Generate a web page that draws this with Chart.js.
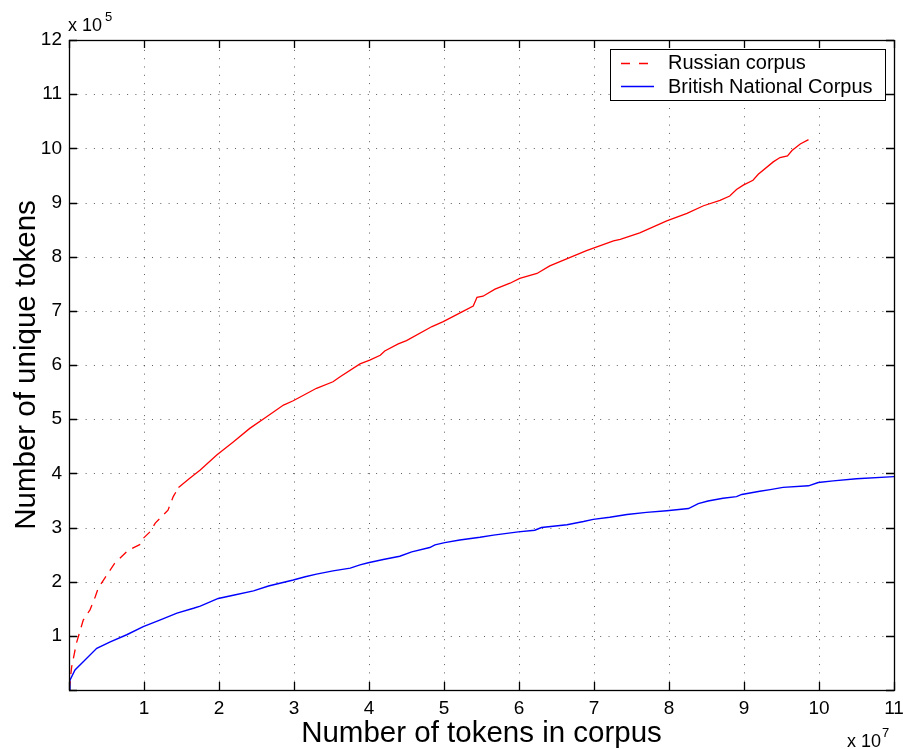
<!DOCTYPE html>
<html>
<head>
<meta charset="utf-8">
<script src="https://cdn.jsdelivr.net/npm/chart.js@4"></script>
<style>
  html, body { margin: 0; padding: 0; background: #fff; }
  canvas { display: block; }
</style>
</head>
<body>
<canvas id="corpus" width="903" height="749"></canvas>
<script>
// tokens in corpus (x 10^7) and unique tokens (x 10^5)
const russianTokens = [0, 0.036, 0.10, 0.19, 0.28, 0.35, 0.39, 0.46, 0.61, 0.79, 0.95, 0.99, 1.08, 1.15, 1.32, 1.39, 1.46,
    1.61, 1.75, 1.97, 2.19, 2.41, 2.64, 2.86, 2.99, 3.30, 3.52, 3.61, 3.88, 4.01, 4.15, 4.21, 4.39, 4.50, 4.84, 4.99,
    5.24, 5.39, 5.44, 5.52, 5.68, 5.88, 6.01, 6.24, 6.41, 6.90, 7.26, 7.35, 7.61, 7.97, 8.24, 8.46, 8.68, 8.81, 8.90,
    8.99, 9.12, 9.19, 9.39, 9.48, 9.58, 9.64, 9.75, 9.86];
const russianUnique = [0, 0.43, 0.87, 1.29, 1.48, 1.72, 1.88, 2.03, 2.34, 2.58, 2.69, 2.80, 2.92, 3.08, 3.32, 3.57, 3.74,
    3.91, 4.06, 4.34, 4.58, 4.83, 5.05, 5.26, 5.34, 5.57, 5.69, 5.78, 6.02, 6.09, 6.18, 6.26, 6.39, 6.45, 6.71, 6.80,
    6.98, 7.09, 7.25, 7.27, 7.40, 7.51, 7.60, 7.69, 7.83, 8.11, 8.29, 8.32, 8.44, 8.66, 8.80, 8.94, 9.04, 9.12, 9.24,
    9.32, 9.41, 9.52, 9.75, 9.83, 9.86, 9.96, 10.08, 10.16];

const bncTokens = [0, 0.013, 0.08, 0.19, 0.37, 0.55, 0.77, 0.99, 1.21, 1.44, 1.66, 1.75, 1.99, 2.19, 2.46, 2.66, 2.99,
    3.15, 3.30, 3.52, 3.75, 3.88, 3.99, 4.19, 4.41, 4.57, 4.81, 4.88, 5.01, 5.21, 5.48, 5.66, 5.99, 6.21, 6.30, 6.64,
    6.86, 6.99, 7.21, 7.44, 7.70, 7.97, 8.26, 8.39, 8.52, 8.72, 8.90, 8.97, 9.21, 9.35, 9.52, 9.86, 9.99, 10.19, 10.5, 11.0];
const bncUnique = [0, 0.18, 0.37, 0.52, 0.77, 0.89, 1.02, 1.17, 1.29, 1.42, 1.51, 1.55, 1.69, 1.75, 1.83, 1.92, 2.03,
    2.09, 2.14, 2.20, 2.25, 2.31, 2.35, 2.41, 2.47, 2.55, 2.63, 2.68, 2.72, 2.77, 2.82, 2.86, 2.92, 2.95, 3.00, 3.05,
    3.11, 3.15, 3.19, 3.24, 3.28, 3.31, 3.35, 3.44, 3.49, 3.54, 3.57, 3.61, 3.67, 3.70, 3.74, 3.77, 3.83, 3.86, 3.90, 3.94];

const xTicks = [0, 1, 2, 3, 4, 5, 6, 7, 8, 9, 10, 11];
const yTicks = [0, 1, 2, 3, 4, 5, 6, 7, 8, 9, 10, 11, 12];
const seriesNames = ["Russian corpus", "British National Corpus"];

const FONT = "'Liberation Sans', Arial, Helvetica, sans-serif";

function toPoints(xs, ys) {
    return xs.map((x, i) => ({ x: x, y: ys[i] }));
}

// MATLAB style box: dotted grid, inward ticks on all four sides, legend and exponents
const matlabFrame = {
    id: "matlabFrame",
    beforeDatasetsDraw(chart) {
        const { ctx, chartArea: a, scales: { x, y } } = chart;
        ctx.save();
        ctx.strokeStyle = "rgba(40,40,40,0.75)";
        ctx.lineWidth = 1;
        ctx.setLineDash([1, 7.3]);
        xTicks.slice(1, -1).forEach(v => {
            const px = Math.round(x.getPixelForValue(v)) + 0.5;
            ctx.beginPath(); ctx.moveTo(px, a.bottom); ctx.lineTo(px, a.top); ctx.stroke();
        });
        yTicks.slice(1, -1).forEach(v => {
            const py = Math.round(y.getPixelForValue(v)) + 0.5;
            ctx.beginPath(); ctx.moveTo(a.left, py); ctx.lineTo(a.right, py); ctx.stroke();
        });
        ctx.restore();
    },
    afterDraw(chart) {
        const { ctx, chartArea: a, scales: { x, y } } = chart;
        ctx.save();
        ctx.strokeStyle = "#000";
        ctx.lineWidth = 1.3;
        ctx.setLineDash([]);
        const tl = 8;
        xTicks.forEach(v => {
            const px = Math.round(x.getPixelForValue(v)) + 0.5;
            ctx.beginPath();
            ctx.moveTo(px, a.bottom); ctx.lineTo(px, a.bottom - tl);
            ctx.moveTo(px, a.top); ctx.lineTo(px, a.top + tl);
            ctx.stroke();
        });
        yTicks.forEach(v => {
            const py = Math.round(y.getPixelForValue(v)) + 0.5;
            ctx.beginPath();
            ctx.moveTo(a.left, py); ctx.lineTo(a.left + tl, py);
            ctx.moveTo(a.right, py); ctx.lineTo(a.right - tl, py);
            ctx.stroke();
        });
        ctx.strokeRect(Math.round(a.left) + 0.5, Math.round(a.top) + 0.5,
            Math.round(a.right - a.left), Math.round(a.bottom - a.top));

        // exponent labels
        ctx.fillStyle = "#000";
        ctx.textBaseline = "alphabetic";
        ctx.textAlign = "left";
        ctx.font = "18px " + FONT;
        ctx.fillText("x 10", a.left - 1, 31);
        ctx.font = "13px " + FONT;
        ctx.fillText("5", a.left + 36, 21);
        ctx.font = "18px " + FONT;
        ctx.fillText("x 10", 847, 747);
        ctx.font = "13px " + FONT;
        ctx.fillText("7", 882, 737);

        // legend box
        const lx = a.right - 284, ly = a.top + 9, lw = 275, lh = 51;
        ctx.fillStyle = "#fff";
        ctx.fillRect(lx, ly, lw, lh);
        ctx.strokeStyle = "#000";
        ctx.lineWidth = 1;
        ctx.strokeRect(lx + 0.5, ly + 0.5, lw, lh);
        ctx.lineWidth = 1.5;
        ctx.strokeStyle = "rgb(255,0,0)";
        ctx.setLineDash([9, 9]);
        ctx.beginPath(); ctx.moveTo(lx + 11, ly + 14.5); ctx.lineTo(lx + 41, ly + 14.5); ctx.stroke();
        ctx.setLineDash([]);
        ctx.strokeStyle = "rgb(0,0,255)";
        ctx.beginPath(); ctx.moveTo(lx + 11, ly + 37.5); ctx.lineTo(lx + 44, ly + 37.5); ctx.stroke();
        ctx.fillStyle = "#000";
        ctx.font = "20px " + FONT;
        ctx.textBaseline = "middle";
        ctx.fillText(seriesNames[0], lx + 58, ly + 14);
        ctx.fillText(seriesNames[1], lx + 58, ly + 38);
        ctx.restore();
    }
};

const corpusChart = new Chart(document.getElementById("corpus"), {
    type: "scatter",
    data: {
        datasets: [
            {
                label: seriesNames[0],
                data: toPoints(russianTokens, russianUnique),
                showLine: true,
                borderColor: "#ff0000",
                borderWidth: 1.3,
                pointRadius: 0,
                tension: 0,
                segment: {
                    // dashes only show on the sparse start of the curve
                    borderDash: ctx => ctx.p0.parsed.x < 1.45 ? [9, 7] : undefined
                }
            },
            {
                label: seriesNames[1],
                data: toPoints(bncTokens, bncUnique),
                showLine: true,
                borderColor: "#0000ff",
                borderWidth: 1.4,
                pointRadius: 0,
                tension: 0
            }
        ]
    },
    options: {
        responsive: false,
        animation: false,
        layout: { padding: { top: 40, right: 9, left: 0, bottom: 0 } },
        plugins: {
            legend: { display: false },
            tooltip: { enabled: false }
        },
        scales: {
            x: {
                type: "linear",
                min: 0,
                max: 11,
                grid: { display: false, drawTicks: false },
                border: { display: false },
                afterFit: s => { s.height = 59; s.paddingLeft = 0; s.paddingRight = 0; },
                afterBuildTicks: s => { s.ticks = xTicks.map(v => ({ value: v })); },
                ticks: {
                    padding: 7,
                    color: "#000",
                    font: { family: FONT, size: 19 },
                    maxRotation: 0,
                    callback: v => v === 0 ? "" : String(v)
                },
                title: {
                    display: true,
                    text: "Number of tokens in corpus",
                    color: "#000",
                    font: { family: FONT, size: 29.5, lineHeight: 1.0 },
                    padding: 0
                }
            },
            y: {
                type: "linear",
                min: 0,
                max: 12,
                grid: { display: false, drawTicks: false },
                border: { display: false },
                afterFit: s => { s.width = 69; s.paddingTop = 0; s.paddingBottom = 0; },
                afterBuildTicks: s => { s.ticks = yTicks.map(v => ({ value: v })); },
                ticks: {
                    padding: 7,
                    color: "#000",
                    font: { family: FONT, size: 19 },
                    callback: v => v === 0 ? "" : String(v)
                },
                title: {
                    display: true,
                    text: "Number of unique tokens",
                    color: "#000",
                    font: { family: FONT, size: 29.5 },
                    padding: { top: 9, bottom: 0 }
                }
            }
        }
    },
    plugins: [matlabFrame]
});
</script>
</body>
</html>
